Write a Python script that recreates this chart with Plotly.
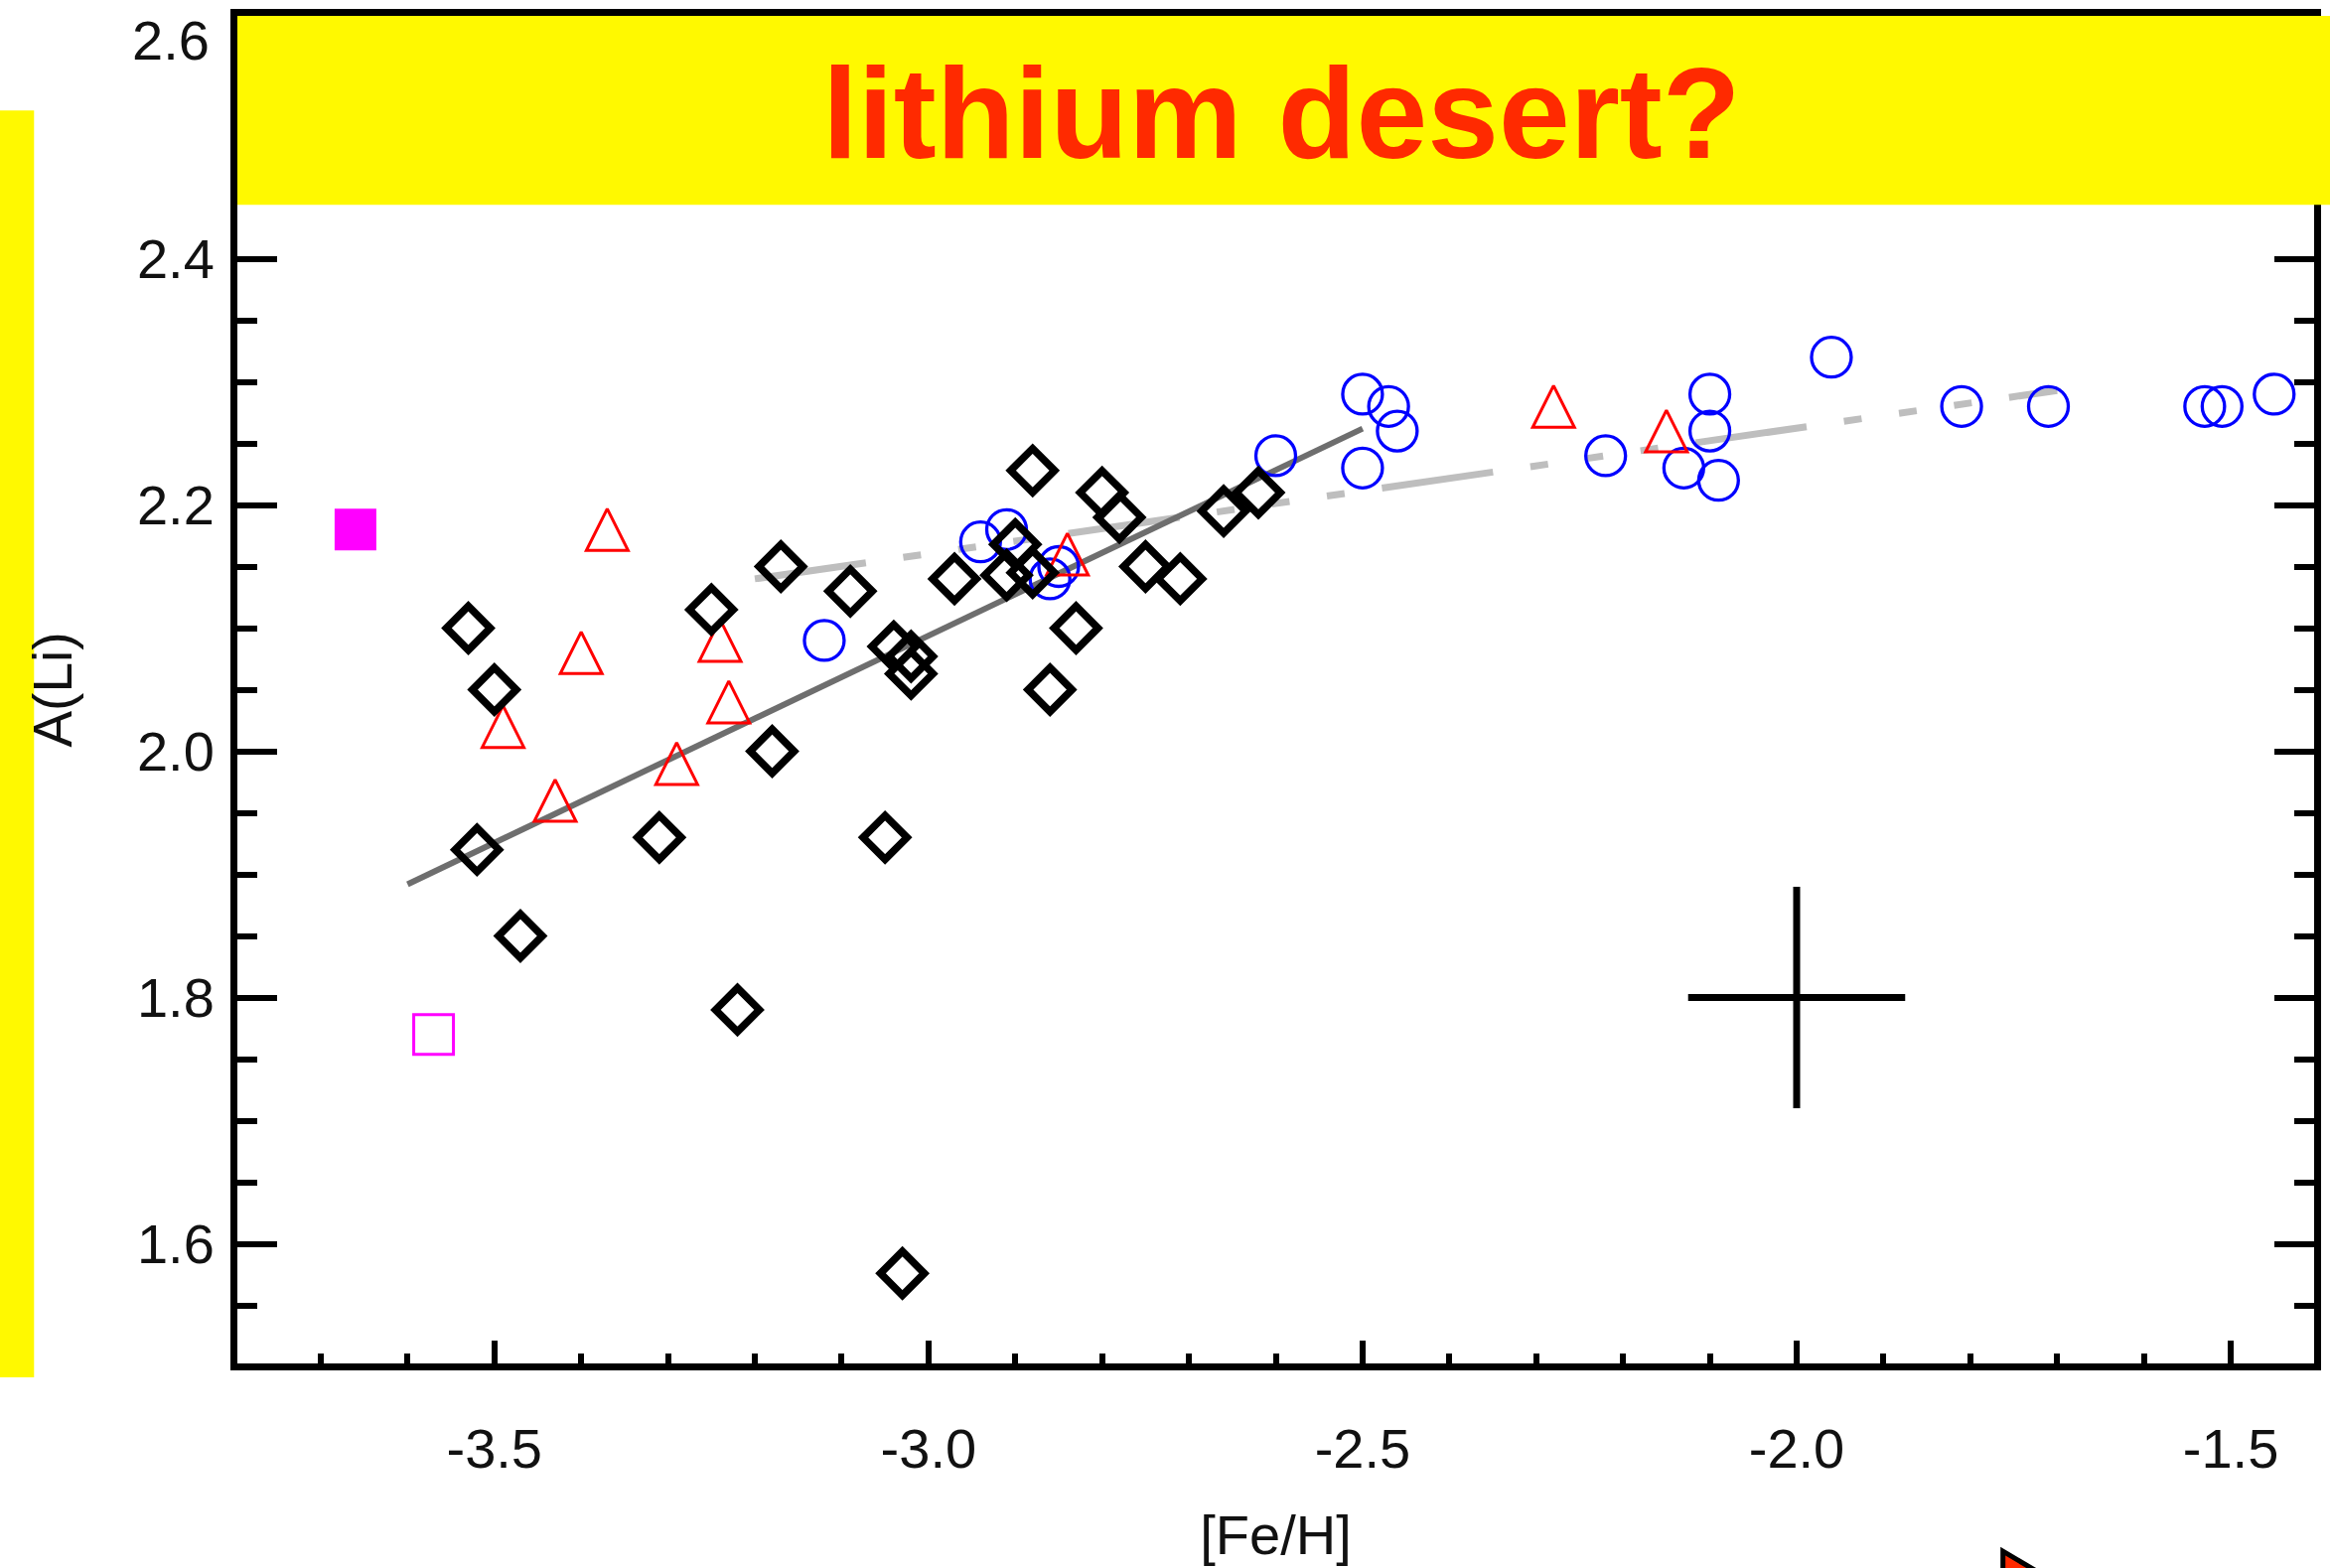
import plotly.graph_objects as go

# ---- data: lithium abundance A(Li) against metallicity [Fe/H] ----
# black diamonds
diamond_feh = [-3.53, -3.50, -3.52, -3.47, -3.31, -3.25, -3.18, -3.17, -3.22, -3.09,
               -3.05, -3.04, -3.02, -3.02, -3.03, -2.97, -2.90, -2.91, -2.88, -2.88,
               -2.86, -2.83, -2.80, -2.78, -2.75, -2.71, -2.66, -2.62]
diamond_li = [2.10, 2.05, 1.92, 1.85, 1.93, 2.115, 2.00, 2.15, 1.79, 2.13,
              1.93, 2.085, 2.077, 2.063, 1.576, 2.14, 2.168, 2.143, 2.145, 2.228,
              2.05, 2.10, 2.21, 2.19, 2.15, 2.14, 2.195, 2.21]

# blue open circles
circle_feh = [-3.12, -2.94, -2.91, -2.85, -2.86, -2.60, -2.50, -2.47, -2.46, -2.50,
              -2.22, -2.10, -2.10, -2.13, -2.09, -1.96, -1.81, -1.71, -1.53, -1.51, -1.45]
circle_li = [2.09, 2.17, 2.18, 2.15, 2.14, 2.24, 2.29, 2.28, 2.26, 2.23,
             2.24, 2.29, 2.26, 2.23, 2.22, 2.32, 2.28, 2.28, 2.28, 2.28, 2.29]

# red open triangles
triangle_feh = [-3.37, -3.40, -3.49, -3.24, -3.23, -3.29, -3.43, -2.84, -2.28, -2.15]
triangle_li = [2.18, 2.08, 2.02, 2.09, 2.04, 1.99, 1.96, 2.16, 2.28, 2.26]

# magenta squares
sq_filled_feh = [-3.66]
sq_filled_li = [2.18]
sq_open_feh = [-3.57]
sq_open_li = [1.77]

# linear fits
fit_steep_feh = [-3.6, -2.5]
fit_steep_li = [1.892, 2.262]
fit_flat_feh = [-3.2, -1.7]
fit_flat_li = [2.14, 2.293]

# typical uncertainty
err_feh = [-2.0]
err_li = [1.8]
err_dfeh = 0.125
err_dli = 0.09

x_limits = [-3.8, -1.4]
y_limits = [1.5, 2.6]
x_ticks = [-3.5, -3.0, -2.5, -2.0, -1.5]
x_ticktext = ["-3.5", "-3.0", "-2.5", "-2.0", "-1.5"]
y_ticks = [1.6, 1.8, 2.0, 2.2, 2.4]
y_ticktext = ["1.6", "1.8", "2.0", "2.2", "2.4"]

# ---- page geometry ----
W, H = 2346, 1579
AXIS_LW = 7
HALF = AXIS_LW / 2
# frame line centres on the page (px): left, right, top, bottom
FL, FR, FT, FB = 235, 2341, 11, 1377
# plotly draws frame lines just outside the plotting area, so inset it by half a line
L, R, T, B = FL + HALF, W - FR + HALF, FT + HALF, H - FB + HALF
PW, PH = W - L - R, H - T - B

x_scale = (FR - FL) / (x_limits[1] - x_limits[0])
y_scale = (FB - FT) / (y_limits[1] - y_limits[0])
x_range = [x_limits[0] + HALF / x_scale, x_limits[1] - HALF / x_scale]
y_range = [y_limits[0] + HALF / y_scale, y_limits[1] - HALF / y_scale]


def pxx(px):
    return (px - L) / PW


def pxy(py):
    return (H - B - py) / PH


FONT = "Liberation Sans, Arial, Helvetica, sans-serif"
YELLOW = "#FFF900"
INK = "#111111"

fig = go.Figure()

fig.add_trace(go.Scatter(x=fit_flat_feh, y=fit_flat_li, mode="lines",
                         line=dict(color="#BEBEBE", width=7,
                                   dash="113px,38px,18px,38px,18px,38px,18px,38px"),
                         hoverinfo="skip"))
fig.add_trace(go.Scatter(x=fit_steep_feh, y=fit_steep_li, mode="lines",
                         line=dict(color="#6E6E6E", width=6), hoverinfo="skip"))

fig.add_trace(go.Scatter(x=circle_feh, y=circle_li, mode="markers",
                         marker=dict(symbol="circle-open", size=40, color="#0000FF",
                                     line=dict(width=3.3, color="#0000FF"))))
fig.add_trace(go.Scatter(x=triangle_feh, y=triangle_li, mode="markers",
                         marker=dict(symbol="arrow-down-open", size=42, angle=180, standoff=21,
                                     color="#FF0000", line=dict(width=3, color="#FF0000"))))
fig.add_trace(go.Scatter(x=diamond_feh, y=diamond_li, mode="markers",
                         marker=dict(symbol="diamond-open", size=34, color="black",
                                     line=dict(width=7.5, color="black"))))
fig.add_trace(go.Scatter(x=sq_filled_feh, y=sq_filled_li, mode="markers",
                         marker=dict(symbol="square", size=42, color="#FF00FF",
                                     line=dict(width=0))))
fig.add_trace(go.Scatter(x=sq_open_feh, y=sq_open_li, mode="markers",
                         marker=dict(symbol="square-open", size=40, color="#FF00FF",
                                     line=dict(width=3, color="#FF00FF"))))
fig.add_trace(go.Scatter(x=err_feh, y=err_li, mode="markers",
                         marker=dict(size=0.1, color="black"),
                         error_x=dict(type="constant", value=err_dfeh, width=0,
                                      thickness=7, color="black"),
                         error_y=dict(type="constant", value=err_dli, width=0,
                                      thickness=7, color="black")))

axis_common = dict(showline=True, linewidth=AXIS_LW, linecolor="black", mirror="allticks",
                   ticks="inside", tickwidth=6, tickcolor="black", showgrid=False,
                   zeroline=False, tickfont=dict(family=FONT, size=56, color=INK))

fig.update_xaxes(range=x_range, tickmode="array", tickvals=x_ticks, ticktext=x_ticktext,
                 ticklen=23, ticklabelstandoff=31,
                 minor=dict(tickmode="linear", tick0=x_limits[0], dtick=0.1, ticks="inside",
                            ticklen=10, tickwidth=6, tickcolor="black"),
                 title=dict(text="[Fe/H]", font=dict(family=FONT, size=56, color=INK),
                            standoff=39),
                 **axis_common)
fig.update_yaxes(range=y_range, tickmode="array", tickvals=y_ticks, ticktext=y_ticktext,
                 ticklen=40, ticklabelstandoff=5,
                 minor=dict(tickmode="linear", tick0=y_limits[0], dtick=0.05, ticks="inside",
                            ticklen=20, tickwidth=6, tickcolor="black"),
                 title=dict(text="A(Li)", font=dict(family=FONT, size=55, color=INK),
                            standoff=50),
                 **axis_common)

shapes = [
    # banner across the top of the plot
    dict(type="rect", xref="paper", yref="paper", x0=pxx(FL + HALF), x1=pxx(W + 10),
         y0=pxy(205), y1=pxy(FT + HALF), fillcolor=YELLOW, line=dict(width=0), layer="above"),
    # bar at the left edge of the page
    dict(type="rect", xref="paper", yref="paper", x0=pxx(-5), x1=pxx(33),
         y0=pxy(1387.5), y1=pxy(110), fillcolor=YELLOW, line=dict(width=0), layer="above"),
    # pointer at the bottom edge
    dict(type="path", xref="paper", yref="paper",
         path="M {:.5f},{:.5f} L {:.5f},{:.5f} L {:.5f},{:.5f} Z".format(
             pxx(2023), pxy(1563), pxx(2086), pxy(1600), pxx(2023), pxy(1600)),
         fillcolor="#FF2A00", line=dict(color="black", width=5), layer="above"),
]

annotations = [
    dict(text="<b>lithium desert?</b>", xref="paper", yref="paper",
         x=pxx(1294), y=pxy(112.6), xanchor="center", yanchor="middle", showarrow=False,
         font=dict(family=FONT, size=129, color="#FF2A00")),
    dict(text="2.6", xref="paper", yref="paper", x=pxx(212), y=pxy(39),
         xanchor="right", yanchor="middle", showarrow=False,
         font=dict(family=FONT, size=56, color=INK)),
]

fig.update_layout(width=W, height=H, margin=dict(l=L, r=R, t=T, b=B, pad=0),
                  paper_bgcolor="white", plot_bgcolor="white", showlegend=False,
                  shapes=shapes, annotations=annotations)

fig.write_html("out.html")
